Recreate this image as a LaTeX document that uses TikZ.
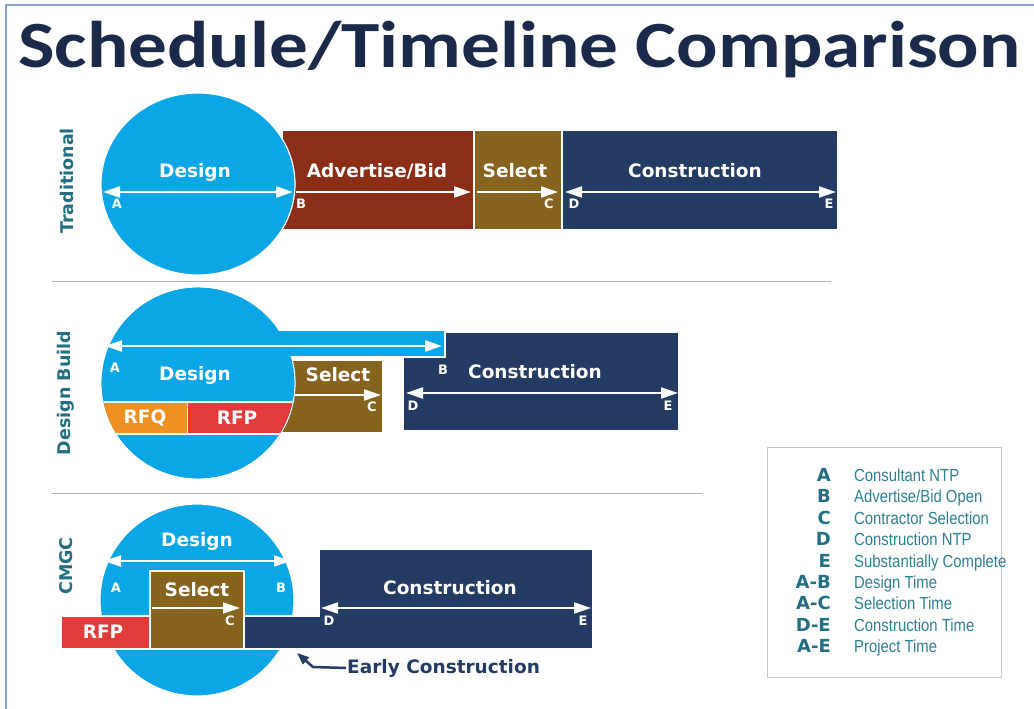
\documentclass[tikz,border=0pt]{standalone}
\usepackage{fontspec}
\setmainfont{DejaVu Sans}
\newfontfamily\titlefont[FakeStretch=1.17]{Carlito}
\newfontfamily\legfont[FakeStretch=0.85]{Liberation Sans}
\usetikzlibrary{arrows.meta,shapes.geometric}
\definecolor{skyb}{HTML}{0AA6E6}
\definecolor{rust}{HTML}{8B2E17}
\definecolor{olive}{HTML}{876320}
\definecolor{navy}{HTML}{243B63}
\definecolor{orng}{HTML}{EF9121}
\definecolor{rfpred}{HTML}{E23B3B}
\definecolor{tealc}{HTML}{236E82}
\definecolor{legc}{HTML}{2A8296}
\definecolor{titlec}{HTML}{1B2A4A}
\definecolor{framec}{HTML}{7F9FD6}
\tikzset{
  box/.style={draw=white, line width=1.2pt, inner sep=0pt, outer sep=0pt, anchor=north west},
  circ/.style={ellipse, fill=skyb, draw=white, line width=1.2pt, inner sep=0pt, outer sep=0pt},
  lbl/.style={text=white, font=\bfseries\fontsize{18.5}{20}\selectfont, inner sep=0pt},
  pt/.style={text=white, font=\bfseries\fontsize{13}{14}\selectfont, inner sep=0pt},
  rowlbl/.style={rotate=90, text=tealc, font=\bfseries\fontsize{17.5}{19}\selectfont, inner sep=0pt},
  warr/.style={white, line width=2.2pt, -{Triangle[length=17pt,width=11pt]}},
  warrd/.style={white, line width=2.2pt, {Triangle[length=17pt,width=11pt]}-{Triangle[length=17pt,width=11pt]}},
  sep/.style={gray!60, line width=1pt},
  legl/.style={anchor=base east, text=tealc, font=\bfseries\fontsize{18}{19}\selectfont, inner sep=0pt},
  legd/.style={anchor=base west, text=legc, font=\legfont\fontsize{17.5}{18}\selectfont, inner sep=0pt}
}
\begin{document}
\begin{tikzpicture}[x=1pt,y=-1pt]
\useasboundingbox (0,0) rectangle (1034,709);
\fill[white] (0,0) rectangle (1034,709);
\draw[framec, line width=1.5pt] (6,709) -- (6,5) -- (1034,5);

% Title
\node[anchor=base west, inner sep=0pt, text=titlec, font=\titlefont\bfseries\fontsize{66}{70}\selectfont] (title) at (18,67) {Schedule/Timeline Comparison};

% ---------------- Traditional ----------------
\node[rowlbl] (trad) at (67,181) {Traditional};
\node[box, fill=rust, minimum width=192pt, minimum height=100pt] (adv) at (282,130) {};
\node[box, fill=olive, minimum width=88pt, minimum height=100pt] (sel1) at (474,130) {};
\node[box, fill=navy, minimum width=276pt, minimum height=100pt] (con1) at (562,130) {};
\node[circ, minimum width=194pt, minimum height=182pt] (c1) at (198,184) {};
\coordinate (A1) at (103,192);
\coordinate (B1) at (293,192);
\coordinate (B1b) at (296,192);
\coordinate (AB1) at (471,192);
\coordinate (S1a) at (477,192);
\coordinate (C1) at (558,192);
\coordinate (D1) at (565,192);
\coordinate (E1) at (836,192);
\draw[warrd] (A1) -- (B1);
\draw[warr] (B1b) -- (AB1);
\draw[warr] (S1a) -- (C1);
\draw[warrd] (D1) -- (E1);
\node[lbl] (des1) at (195,172) {Design};
\node[lbl] (advl) at (377,171) {Advertise/Bid};
\node[lbl] (sel1l) at (515,171) {Select};
\node[lbl] (con1l) at (695,171) {Construction};
\node[pt] (pA1) at (117,204) {A};
\node[pt] (pB1) at (301,204) {B};
\node[pt] (pC1) at (549,204) {C};
\node[pt] (pD1) at (574,204) {D};
\node[pt] (pE1) at (829,204) {E};
\draw[sep] (52,281) -- (831,281);

% ---------------- Design Build ----------------
\node[rowlbl] (db) at (66,393) {Design Build};
\node[box, fill=olive, minimum width=102pt, minimum height=73pt] (sel2) at (281,360) {};
\node[box, fill=navy, minimum width=276pt, minimum height=99pt] (con2) at (403,332) {};
\node[circ, minimum width=194pt, minimum height=192pt] (c2) at (198,383) {};
\filldraw[fill=skyb, draw=white, line width=1.2pt] (250,330) rectangle (445,357);
\fill[skyb] (198,383) ellipse [x radius=96.3, y radius=95.3];
\begin{scope}
  \clip (198,383) ellipse [x radius=96.4, y radius=95.4];
  \fill[orng] (90,402) rectangle (187.5,434);
  \fill[rfpred] (187.5,402) rectangle (300,434);
  \draw[white, line width=1.5pt] (90,402) -- (300,402);
  \draw[white, line width=1.5pt] (90,434) -- (300,434);
  \draw[white, line width=1.5pt] (187.5,402) -- (187.5,434);
\end{scope}
\coordinate (A2) at (105,346);
\coordinate (B2) at (442,346);
\coordinate (S2a) at (295,395);
\coordinate (C2) at (381,395);
\coordinate (D2) at (406,393);
\coordinate (E2) at (678,393);
\draw[warrd] (A2) -- (B2);
\draw[warr] (S2a) -- (C2);
\draw[warrd] (D2) -- (E2);
\node[lbl] (des2) at (195,375) {Design};
\node[lbl] (sel2l) at (338,375) {Select};
\node[lbl] (con2l) at (535,372) {Construction};
\node[lbl] (rfq2) at (145,418) {RFQ};
\node[lbl] (rfp2) at (237,418) {RFP};
\node[pt] (pA2) at (115,368) {A};
\node[pt] (pB2) at (443,370) {B};
\node[pt] (pC2) at (372,407) {C};
\node[pt] (pD2) at (413,406) {D};
\node[pt] (pE2) at (668,406) {E};
\draw[sep] (52,493) -- (703,493);

% ---------------- CMGC ----------------
\node[rowlbl] (cm) at (66,566) {CMGC};
\node[circ, minimum width=194pt, minimum height=192pt] (c3) at (197,600) {};
\node[box, fill=olive, minimum width=94pt, minimum height=78pt] (sel3) at (150,571) {};
\node[box, fill=rfpred, minimum width=89pt, minimum height=33pt] (rfp3) at (61,616) {};
\filldraw[fill=navy, draw=white, line width=1.2pt] (319,549) -- (593,549) -- (593,649) -- (244,649) -- (244,616) -- (319,616) -- cycle;
\coordinate (A3) at (104,561);
\coordinate (B3) at (291,561);
\coordinate (S3a) at (152,608);
\coordinate (C3) at (240,608);
\coordinate (D3) at (321,608);
\coordinate (E3) at (591,608);
\draw[warrd] (A3) -- (B3);
\draw[warr] (S3a) -- (C3);
\draw[warrd] (D3) -- (E3);
\node[lbl] (des3) at (197,541) {Design};
\node[lbl] (sel3l) at (197,590) {Select};
\node[lbl] (rfp3l) at (103,632) {RFP};
\node[lbl] (con3l) at (450,588) {Construction};
\node[pt] (pA3) at (116,588) {A};
\node[pt] (pB3) at (281,588) {B};
\node[pt] (pC3) at (230,621) {C};
\node[pt] (pD3) at (329,621) {D};
\node[pt] (pE3) at (583,621) {E};
\node[text=navy, font=\bfseries\fontsize{18.5}{20}\selectfont, inner sep=1pt, anchor=west] (ec) at (346,668) {Early Construction};
\coordinate (ectip) at (297,653);
\draw[navy, line width=2.5pt, -{Triangle[length=12pt,width=9pt]}] (ec.west) -- (313,667) -- (ectip);

% ---------------- Legend ----------------
\node[draw=gray!45, line width=1pt, minimum width=234pt, minimum height=230pt, inner sep=0pt, anchor=north west] (legend) at (767,447) {};
\foreach \k/\d [count=\i from 0] in {A/Consultant NTP, B/Advertise\slash Bid Open, C/Contractor Selection, D/Construction NTP, E/Substantially Complete, A-B/Design Time, A-C/Selection Time, D-E/Construction Time, A-E/Project Time}{
  \node[legl] (lk\i) at (831,{481.5+21.4*\i}) {\k};
  \node[legd] (ld\i) at (854,{481.5+21.4*\i}) {\d};
}
\end{tikzpicture}
\end{document}
